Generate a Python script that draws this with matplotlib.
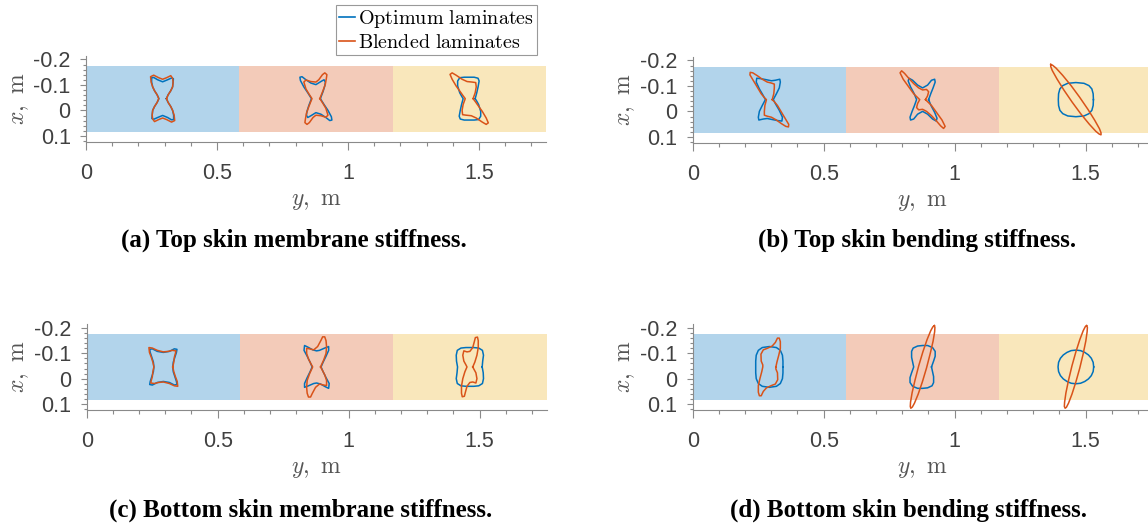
import numpy as np
import matplotlib
matplotlib.use('Agg')
import matplotlib.pyplot as plt
from matplotlib.patches import Rectangle
from matplotlib.lines import Line2D
from matplotlib.ticker import MultipleLocator

plt.rcParams['mathtext.fontset'] = 'cm'
plt.rcParams['axes.unicode_minus'] = False

# ---------------- data ----------------
section_edges = [0.0, 0.585, 1.17, 1.755]      # spanwise stations y, m
box_x = [-0.176, 0.083]                          # chordwise extent of skin, m
section_colors = ['#0072BD', '#D95319', '#EDB120']
series_names = ['Optimum laminates', 'Blended laminates']
series_colors = ['#0072BD', '#D95319']
x_ticks = [0, 0.5, 1, 1.5]
x_ticklabels = ['0', '0.5', '1', '1.5']
y_ticks = [-0.2, -0.1, 0, 0.1]
y_ticklabels = ['-0.2', '-0.1', '0', '0.1']
captions = ['(a) Top skin membrane stiffness.', '(b) Top skin bending stiffness.',
            '(c) Bottom skin membrane stiffness.', '(d) Bottom skin bending stiffness.']

# half of each (centro-symmetric) stiffness polar curve, offsets in mm
# u: spanwise offset, v: offset towards leading edge (up on the plot)
a1_opt_u = [14, 21, 31, 38, 40, 41, 34, 19, 0, -19, -34, -42, -42, -38, -31, -21]
a1_opt_v = [0, 15, 31, 46, 65, 78, 81, 74, 66, 74, 83, 82, 65, 46, 31, 15]
a1_bld_u = [15, 21, 31, 38, 40, 38, 31, 15, 0, -15, -34, -46, -44, -38, -31, -21]
a1_bld_v = [0, 15, 31, 46, 65, 80, 90, 82, 76, 82, 92, 86, 65, 46, 31, 15]

a2_opt_u = [17, 27, 34, 36, 31, 19, 0, -19, -38, -53, -61, -59, -46, -31]
a2_opt_v = [0, 27, 50, 65, 74, 67, 55, 61, 74, 86, 84, 71, 46, 23]
a2_bld_u = [15, 27, 36, 40, 42, 34, 25, 11, 0, -19, -38, -46, -38, -27]
a2_bld_v = [0, 31, 57, 80, 94, 101, 94, 74, 65, 67, 73, 65, 38, 19]

a3_opt_u = [23, 29, 34, 38, 34, 19, 0, -19, -36, -44, -44, -36, -29]
a3_opt_v = [0, 23, 46, 69, 80, 84, 84, 84, 82, 69, 50, 23, 10]
a3_bld_u = [15, 23, 27, 25, 11, -8, -27, -50, -65, -73, -65, -50, -34, -23]
a3_bld_v = [0, 23, 46, 63, 65, 67, 76, 92, 101, 95, 76, 50, 27, 11]

b1_opt_u = [15, 27, 38, 42, 40, 23, 8, -11, -31, -48, -50, -38, -25]
b1_opt_v = [0, 23, 46, 69, 80, 76, 74, 78, 82, 84, 69, 42, 19]
b1_bld_u = [11, 17, 19, 19, 8, -8, -27, -46, -63, -73, -74, -53, -31, -19]
b1_bld_v = [0, 23, 46, 61, 65, 69, 80, 94, 105, 107, 97, 61, 23, 8]

b2_opt_u = [23, 31, 40, 48, 46, 34, 19, 0, -19, -38, -52, -55, -46, -32]
b2_opt_v = [0, 23, 46, 69, 80, 76, 57, 46, 57, 76, 84, 73, 50, 23]
b2_bld_u = [11, 19, 23, 15, 0, -15, -34, -53, -69, -80, -86, -74, -53, -34, -19]
b2_bld_v = [0, 15, 31, 40, 38, 46, 63, 84, 103, 113, 105, 80, 50, 23, 8]

b3_opt_u = [67, 66, 61, 50, 31, 0, -31, -50, -61, -66]
b3_opt_v = [0, 23, 42, 55, 64, 67, 64, 55, 42, 23]
b3_bld_u = [-96, -89, -76, -51, -19, 14, 46, 72, 90, 96]
b3_bld_v = [138, 135, 124, 96, 56, 10, -38, -81, -114, -130]

c1_opt_u = [36, 38, 44, 50, 52, 42, 23, 0, -23, -42, -52, -50, -44, -38]
c1_opt_v = [0, 19, 38, 57, 69, 71, 61, 57, 61, 71, 69, 57, 38, 19]
c1_bld_u = [36, 40, 42, 46, 48, 34, 19, 0, -23, -42, -55, -53, -46, -40]
c1_bld_v = [0, 19, 38, 53, 63, 65, 61, 59, 65, 74, 76, 57, 38, 19]

c2_opt_u = [17, 25, 36, 46, 46, 31, 11, 0, -15, -34, -46, -48, -36, -25]
c2_opt_v = [0, 19, 42, 65, 80, 74, 65, 63, 67, 78, 84, 65, 42, 19]
c2_bld_u = [15, 27, 36, 38, 36, 31, 23, 17, 4, -11, -27, -38, -38, -31, -21]
c2_bld_v = [0, 27, 53, 80, 103, 118, 118, 105, 80, 67, 71, 73, 53, 31, 11]

c3_opt_u = [47, 49, 52, 48, 34, 15, 0, -15, -34, -48, -52, -51]
c3_opt_v = [0, 23, 46, 65, 74, 76, 76, 76, 74, 65, 46, 23]
c3_bld_u = [11, 19, 27, 32, 32, 29, 21, 17, 11, 0, -11, -23, -27, -23, -15]
c3_bld_v = [0, 19, 46, 76, 103, 117, 115, 99, 76, 61, 59, 63, 46, 23, 8]

d1_opt_u = [52, 52, 50, 42, 27, 0, -27, -42, -50, -52]
d1_opt_v = [0, 23, 46, 65, 76, 80, 76, 65, 46, 23]
d1_bld_u = [25, 29, 36, 42, 42, 38, 31, 23, 11, -8, -23, -32, -31, -25]
d1_bld_v = [0, 19, 46, 73, 99, 113, 113, 96, 82, 73, 67, 50, 23, 8]

d2_opt_u = [34, 42, 48, 48, 38, 19, 0, -19, -36, -42, -42, -38]
d2_opt_v = [0, 23, 42, 61, 76, 84, 84, 82, 74, 61, 38, 19]
d2_bld_u = [45, 39, 31, 17, 1, -15, -29, -40, -46, -47]
d2_bld_v = [162, 157, 142, 107, 59, 4, -52, -101, -138, -155]

d3_opt_u = [68, 66, 59, 48, 34, 18, 0, -18, -34, -48, -59, -66]
d3_opt_v = [0, 18, 34, 47, 57, 64, 66, 64, 57, 47, 34, 18]
d3_bld_u = [41, 36, 28, 15, 0, -15, -28, -38, -43, -44]
d3_bld_v = [162, 158, 142, 107, 59, 4, -52, -102, -138, -155]

panel_curves = [
    [(a1_opt_u, a1_opt_v, a1_bld_u, a1_bld_v), (a2_opt_u, a2_opt_v, a2_bld_u, a2_bld_v),
     (a3_opt_u, a3_opt_v, a3_bld_u, a3_bld_v)],
    [(b1_opt_u, b1_opt_v, b1_bld_u, b1_bld_v), (b2_opt_u, b2_opt_v, b2_bld_u, b2_bld_v),
     (b3_opt_u, b3_opt_v, b3_bld_u, b3_bld_v)],
    [(c1_opt_u, c1_opt_v, c1_bld_u, c1_bld_v), (c2_opt_u, c2_opt_v, c2_bld_u, c2_bld_v),
     (c3_opt_u, c3_opt_v, c3_bld_u, c3_bld_v)],
    [(d1_opt_u, d1_opt_v, d1_bld_u, d1_bld_v), (d2_opt_u, d2_opt_v, d2_bld_u, d2_bld_v),
     (d3_opt_u, d3_opt_v, d3_bld_u, d3_bld_v)],
]

# ---------------- layout ----------------
W, H = 1148, 525
fig = plt.figure(figsize=(W / 100, H / 100), dpi=100)
xlim = (0, 1.755)
ylim = (0.1224, -0.2137)
ax_w = 459.8
ax_h = 85.7
ax_origin = [(86.0, 141.7), (692.7, 142.7), (86.7, 410.0), (692.7, 410.0)]  # (left px, bottom px from top)
caption_pos = [(294, 240), (917, 240), (301, 510), (908, 510)]

spine_c = '#8a8a8a'
tick_lab_c = '#404040'
label_c = '#555555'


def closed(u, v):
    u = np.asarray(u, float) / 1000.0
    v = np.asarray(v, float) / 1000.0
    uu = np.concatenate([u, -u, u[:1]])
    vv = np.concatenate([v, -v, v[:1]])
    return uu, vv


axes = []
for k, (lx, by) in enumerate(ax_origin):
    ax = fig.add_axes([lx / W, (H - by) / H, ax_w / W, ax_h / H])
    axes.append(ax)
    ax.set_xlim(*xlim)
    ax.set_ylim(*ylim)
    for s in ['top', 'right']:
        ax.spines[s].set_visible(False)
    for s in ['left', 'bottom']:
        ax.spines[s].set_color(spine_c)
        ax.spines[s].set_linewidth(0.8)
    ax.set_facecolor('none')
    ax.patch.set_alpha(0)

    # skin sections
    xc = 0.5 * (box_x[0] + box_x[1])
    for i in range(3):
        ax.add_patch(Rectangle((section_edges[i], box_x[0]),
                               section_edges[i + 1] - section_edges[i],
                               box_x[1] - box_x[0], facecolor=section_colors[i],
                               alpha=0.3, edgecolor='none', zorder=0))
        yc = 0.5 * (section_edges[i] + section_edges[i + 1])
        ou, ov, bu, bv = panel_curves[k][i]
        uu, vv = closed(ou, ov)
        ax.plot(yc + uu, xc - vv, color=series_colors[0], lw=1.1, zorder=3, clip_on=False)
        uu, vv = closed(bu, bv)
        ax.plot(yc + uu, xc - vv, color=series_colors[1], lw=1.1, zorder=4, clip_on=False)

    ax.set_xticks(x_ticks)
    ax.set_xticklabels(x_ticklabels)
    ax.set_yticks(y_ticks)
    ax.set_yticklabels(y_ticklabels)
    ax.xaxis.set_minor_locator(MultipleLocator(0.1))
    ax.yaxis.set_minor_locator(MultipleLocator(0.02))
    ax.tick_params(axis='x', which='major', direction='out', length=6, width=0.8,
                   color=spine_c, labelsize=15.5, labelcolor=tick_lab_c, pad=9)
    ax.tick_params(axis='x', which='minor', direction='out', length=3.2, width=0.8, color=spine_c)
    ax.tick_params(axis='y', which='major', direction='out', length=4, width=0.8,
                   color=spine_c, labelsize=15.5, labelcolor=tick_lab_c, pad=7)
    ax.tick_params(axis='y', which='minor', direction='out', length=2.3, width=0.8, color=spine_c)
    for lab in ax.get_xticklabels() + ax.get_yticklabels():
        lab.set_fontfamily('Liberation Sans')
    ax.set_xlabel(r'$y,\ \mathrm{m}$', fontsize=17, color=label_c, labelpad=3)
    ax.set_ylabel(r'$x,\ \mathrm{m}$', fontsize=17, color=label_c, labelpad=2)

    cx, cy = caption_pos[k]
    fig.text(cx / W, 1 - cy / H, captions[k], ha='center', va='center',
             fontsize=18, fontweight='bold', family='Liberation Serif')

handles = [Line2D([], [], color=c, lw=1.2) for c in series_colors]
leg = fig.legend(handles, [r'$\mathrm{Optimum\ laminates}$', r'$\mathrm{Blended\ laminates}$'],
                 loc='upper left', bbox_to_anchor=(336 / W, 1 - 5 / H),
                 bbox_transform=fig.transFigure, fontsize=14.5, frameon=True,
                 fancybox=False, borderaxespad=0, borderpad=0.15, labelspacing=0.15,
                 handlelength=0.8, handletextpad=0.15)
leg.get_frame().set_edgecolor('#808080')
leg.get_frame().set_linewidth(0.8)

fig.savefig('out.png', dpi=100)
